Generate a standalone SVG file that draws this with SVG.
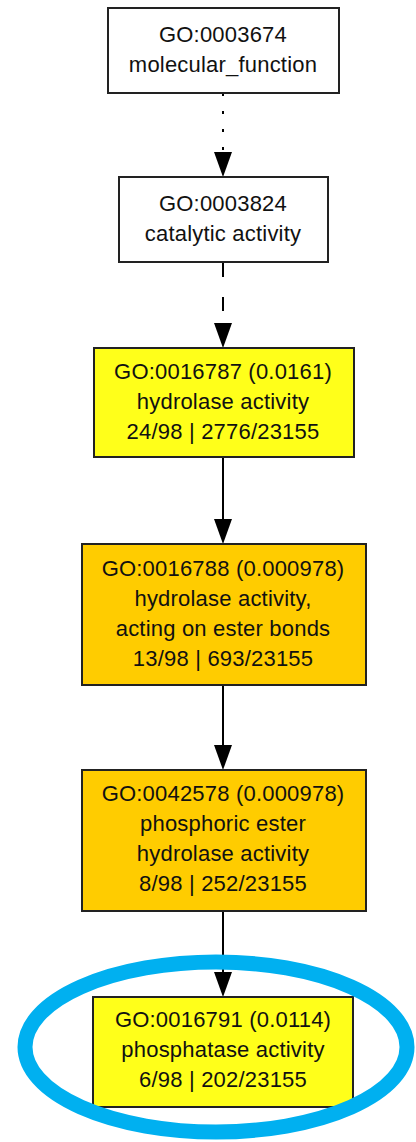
<svg xmlns="http://www.w3.org/2000/svg" width="416" height="1142" viewBox="0 0 416 1142">
  <defs>
    <marker id="arrow" markerWidth="18" markerHeight="25" refX="9" refY="25" orient="auto-start-reverse" markerUnits="userSpaceOnUse" viewBox="0 0 18 25">
      <path d="M0,0 L18,0 L9,25 Z" fill="#000"/>
    </marker>
    <style>
      .node rect { stroke: #222; stroke-width: 2; }
      .plain rect { fill: #ffffff; }
      .yellow rect { fill: #ffff1a; }
      .orange rect { fill: #ffcc00; }
      .node text { font-family: "Liberation Sans", Arial, sans-serif; font-size: 22px; fill: #111; text-anchor: middle; letter-spacing: 0.2px; }
      .edge { stroke: #000; stroke-width: 2; fill: none; }
      .highlight { fill: none; stroke: #00b0f0; stroke-width: 15; }
    </style>
  </defs>

  <rect width="416" height="1142" fill="#ffffff"/>

  <!-- connectors -->
  <g id="edges">
    <line class="edge" x1="223" y1="93" x2="223" y2="154" stroke-dasharray="3,15"/>
    <path d="M214,152 L232,152 L223,177 Z" fill="#000"/>
    <line class="edge" x1="223" y1="263" x2="223" y2="324" stroke-dasharray="14,20"/>
    <path d="M214,323 L232,323 L223,348 Z" fill="#000"/>
    <line class="edge" x1="223" y1="457" x2="223" y2="520"/>
    <path d="M214,519 L232,519 L223,544 Z" fill="#000"/>
    <line class="edge" x1="223" y1="685" x2="223" y2="746"/>
    <path d="M214,745 L232,745 L223,770 Z" fill="#000"/>
    <line class="edge" x1="223" y1="911" x2="223" y2="973"/>
    <path d="M214,972 L232,972 L223,997 Z" fill="#000"/>
  </g>

  <g id="GO0003674" class="node plain">
    <rect x="108" y="8" width="231" height="85"/>
    <text x="223" y="42">GO:0003674</text>
    <text x="223" y="72">molecular_function</text>
  </g>

  <g id="GO0003824" class="node plain">
    <rect x="119" y="177" width="209" height="85"/>
    <text x="223" y="211">GO:0003824</text>
    <text x="223" y="241">catalytic activity</text>
  </g>

  <g id="GO0016787" class="node yellow">
    <rect x="94" y="348" width="260" height="109"/>
    <text x="223" y="379">GO:0016787 (0.0161)</text>
    <text x="223" y="409">hydrolase activity</text>
    <text x="223" y="439">24/98 | 2776/23155</text>
  </g>

  <g id="GO0016788" class="node orange">
    <rect x="82" y="544" width="284" height="141"/>
    <text x="223" y="576">GO:0016788 (0.000978)</text>
    <text x="223" y="606">hydrolase activity,</text>
    <text x="223" y="636">acting on ester bonds</text>
    <text x="223" y="666">13/98 | 693/23155</text>
  </g>

  <g id="GO0042578" class="node orange">
    <rect x="82" y="770" width="284" height="141"/>
    <text x="223" y="801">GO:0042578 (0.000978)</text>
    <text x="223" y="831">phosphoric ester</text>
    <text x="223" y="861">hydrolase activity</text>
    <text x="223" y="891">8/98 | 252/23155</text>
  </g>

  <g id="GO0016791" class="node yellow">
    <rect x="93" y="997" width="260" height="110"/>
    <text x="223" y="1027">GO:0016791 (0.0114)</text>
    <text x="223" y="1057">phosphatase activity</text>
    <text x="223" y="1087">6/98 | 202/23155</text>
  </g>

  <!-- highlight ring around the final term -->
  <ellipse class="highlight" cx="216" cy="1047" rx="191" ry="85"/>
</svg>
